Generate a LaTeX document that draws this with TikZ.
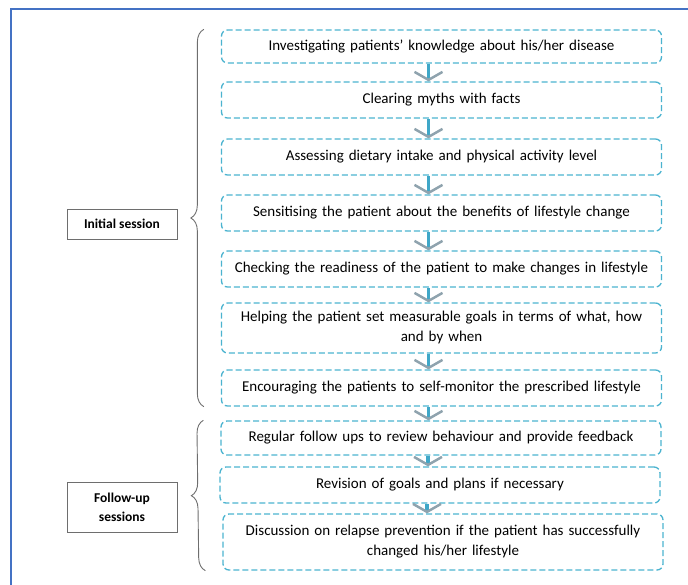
\documentclass[tikz,border=0pt]{standalone}
\usepackage{fontspec}
\setmainfont{Carlito}
\usepackage{tikz}
\usetikzlibrary{arrows.meta, positioning, calc, decorations.pathreplacing}
\definecolor{stepcyan}{HTML}{4BB3CF}
\definecolor{framblue}{HTML}{4472C4}
\definecolor{arrowblue}{HTML}{3FA7C8}
\definecolor{arrowgrey}{HTML}{8FA3AE}
\definecolor{bracegrey}{HTML}{6E6E6E}
\tikzset{
    stepbox/.style={draw=stepcyan, line width=1.3pt, dash pattern=on 6pt off 3pt, rounded corners=6pt,
        minimum width=440pt, text width=425pt, align=center, font=\fontsize{15}{20}\selectfont},
    sessionbox/.style={draw=bracegrey, line width=0.8pt, minimum width=110pt, align=center,
        font=\fontsize{13.5}{19}\selectfont\bfseries},
    flowarrow/.style={arrowblue, line width=3.5pt, -{Straight Barb[length=8pt, width=28pt, line width=2.5pt, color=arrowgrey]}},
    sessionbrace/.style={bracegrey, line width=0.9pt, decorate, decoration={brace, amplitude=13pt}}
}

\begin{document}
\begin{tikzpicture}[x=1pt, y=-1pt]
    \useasboundingbox (0,0) rectangle (688,585);
    \draw[framblue, line width=1.3pt] (688,9) -- (11,9) -- (11,585);

    \node[stepbox, minimum height=33pt] (b1) at (441.5,46.5) {Investigating patients’ knowledge about his/her disease};
    \node[stepbox, minimum height=36pt] (b2) at (441.5,100) {Clearing myths with facts};
    \node[stepbox, minimum height=36pt] (b3) at (441.5,157) {Assessing dietary intake and physical activity level};
    \node[stepbox, minimum height=36pt] (b4) at (441.5,213) {Sensitising the patient about the benefits of lifestyle change};
    \node[stepbox, minimum height=36pt] (b5) at (441.5,269) {Checking the readiness of the patient to make changes in lifestyle};
    \node[stepbox, minimum height=50pt] (b6) at (441.5,328) {Helping the patient set measurable goals in terms of what, how\\and by when};
    \node[stepbox, minimum height=36pt] (b7) at (441.5,388) {Encouraging the patients to self-monitor the prescribed lifestyle};
    \node[stepbox, minimum height=34pt] (b8) at (441,438) {Regular follow ups to review behaviour and provide feedback};
    \node[stepbox, minimum height=36pt] (b9) at (440,485) {Revision of goals and plans if necessary};
    \node[stepbox, minimum height=56pt] (b10) at (443,542) {Discussion on relapse prevention if the patient has successfully\\changed his/her lifestyle};

    % arrows between the steps
    \foreach \a/\b in {b1/b2, b2/b3, b3/b4, b4/b5, b5/b6, b6/b7, b7/b8, b8/b9, b9/b10}
        \draw[flowarrow] ([xshift=-13pt]\a.south) -- ([xshift=-13pt]\a.south |- \b.north);

    \node[sessionbox, minimum height=30pt] (initial) at (122,224) {Initial session};
    \node[sessionbox, minimum height=50pt] (followup) at (122,507) {Follow-up\\sessions};

    \draw[sessionbrace] ([xshift=-17pt]b7.south west) -- ([xshift=-17pt]b1.north west);
    \draw[sessionbrace] ([xshift=-17pt]b10.south west) -- ([xshift=-17pt]b8.north west);
\end{tikzpicture}
\end{document}
